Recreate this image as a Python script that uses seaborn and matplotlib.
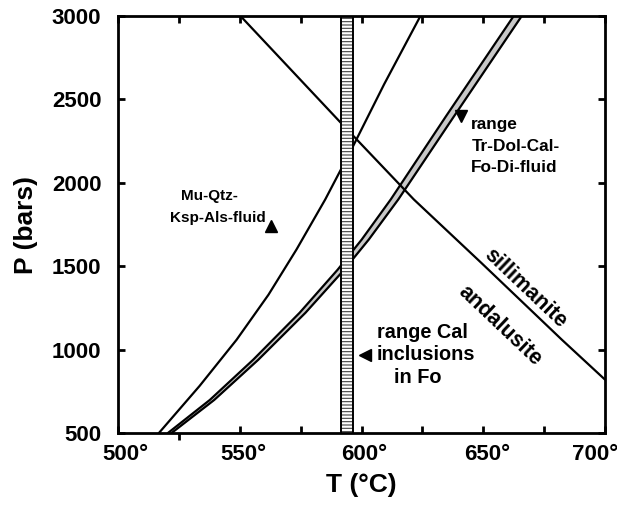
import numpy as np
import pandas as pd
import matplotlib
matplotlib.use("Agg")
import matplotlib.pyplot as plt
import matplotlib.lines as mlines
import matplotlib.transforms as mtransforms
import seaborn as sns

# ---- data ----
# Muscovite + Quartz = K-feldspar + Al-silicate + fluid
mu_T = [516.8, 533.5, 548.7, 561.8, 573.3, 585.1, 595.9, 609.3, 624.2]
mu_P = [500, 782, 1059, 1329, 1600, 1900, 2201, 2591, 3000]

# Tr-Dol-Cal-Fo-Di-fluid band (two bounding curves)
tr_P = [500, 698, 939, 1221, 1479, 1660, 1900, 2399, 3000]
tr_T_low = [520.5, 537.7, 555.5, 574.6, 590.2, 600.1, 612.0, 634.7, 662.5]
tr_T_high = [522.0, 539.5, 557.6, 577.0, 592.9, 603.0, 615.1, 638.0, 665.8]

# andalusite = sillimanite
as_T = [550.3, 591.3, 621.5, 649.2, 682.3, 700.0]
as_P = [3000, 2363, 1900, 1520, 1059, 820]

# range of Cal inclusions in Fo (temperature band)
cal_T = [591.5, 596.5]

x_ticks = [500, 550, 600, 650, 700]
x_tick_labels = ["500°", "550°", "600°", "650°", "700°"]
x_minor = [525, 575, 625, 675]
y_ticks = [500, 1000, 1500, 2000, 2500, 3000]
y_tick_labels = ["500", "1000", "1500", "2000", "2500", "3000"]

# ---- style ----
sns.set_theme(style="ticks")
plt.rcParams["font.family"] = ["Liberation Sans", "DejaVu Sans"]
plt.rcParams["font.weight"] = "bold"
for k in ("text.color", "axes.labelcolor", "xtick.color", "ytick.color",
          "axes.edgecolor"):
    plt.rcParams[k] = "black"
plt.rcParams["hatch.linewidth"] = 0.8
plt.rcParams["hatch.color"] = "#333333"

fig = plt.figure(figsize=(6.17, 5.11), dpi=100)
ax = fig.add_axes([118 / 617, 1 - 433 / 511, 487 / 617, 417 / 511])

LW = 1.6

mu_df = pd.DataFrame({"T": mu_T, "P": mu_P})
as_df = pd.DataFrame({"T": as_T, "P": as_P})
trl_df = pd.DataFrame({"T": tr_T_low, "P": tr_P})
trh_df = pd.DataFrame({"T": tr_T_high, "P": tr_P})

# stippled band
ax.fill_betweenx(tr_P, tr_T_low, tr_T_high, color="#c8c8c8", lw=0, zorder=2)
for df in (trl_df, trh_df):
    sns.lineplot(data=df, x="T", y="P", sort=False, estimator=None,
                 color="black", lw=LW, ax=ax, zorder=3)

sns.lineplot(data=mu_df, x="T", y="P", sort=False, estimator=None,
             color="black", lw=LW, ax=ax, zorder=3)
sns.lineplot(data=as_df, x="T", y="P", sort=False, estimator=None,
             color="black", lw=LW, ax=ax, zorder=3)

# hatched vertical band (drawn over curves)
ax.axvspan(cal_T[0], cal_T[1], facecolor="white", edgecolor="#444444",
           hatch="-----", lw=0, zorder=4)
for t in cal_T:
    ax.axvline(t, color="black", lw=1.4, zorder=5)

ax.set_xlim(500, 700)
ax.set_ylim(500, 3000)

ax.set_xticks(x_ticks)
ax.set_xticklabels(x_tick_labels)
ax.set_xticks(x_minor, minor=True)
ax.set_yticks(y_ticks)
ax.set_yticklabels(y_tick_labels)

ax.tick_params(axis="both", which="both", direction="in", length=5, width=2,
               top=True, right=True, color="black")
ax.tick_params(axis="y", which="major", labelsize=16, pad=12)
ax.tick_params(axis="x", which="major", labelsize=16, pad=8)
for lbl in ax.get_xticklabels() + ax.get_yticklabels():
    lbl.set_fontweight("bold")
    lbl.set_color("black")

# center the numbers (not the degree sign) under the ticks; keep 700° inside
shifts = [7, 4, 3, 3.5, -10]
for lbl, dx in zip(ax.get_xticklabels(), shifts):
    lbl.set_transform(lbl.get_transform() +
                      mtransforms.ScaledTranslation(dx / 100, 0, fig.dpi_scale_trans))

# the 525 tick on the bottom points outward in the reference
ax.xaxis.get_minor_ticks()[0].tick1line.set_marker(mlines.TICKDOWN)

for s in ax.spines.values():
    s.set_linewidth(2.0)
    s.set_color("black")
    s.set_zorder(10)

ax.set_xlabel("T (°C)", fontsize=19, fontweight="bold", labelpad=6)
ax.set_ylabel("P (bars)", fontsize=19, fontweight="bold", labelpad=10)

# ---- annotations ----
def txt(x, y, s, size, **kw):
    ax.text(x, y, s, fontsize=size, fontweight="bold", color="black",
            zorder=6, **kw)

txt(537.5, 1918, "Mu-Qtz-", 11, ha="center", va="center")
txt(541.2, 1786, "Ksp-Als-fluid", 11, ha="center", va="center")
ax.plot([562.7], [1744], marker="^", color="black", ms=8, zorder=6)

txt(645.1, 2351, "range", 12.4, ha="left", va="center")
txt(645.1, 2219, "Tr-Dol-Cal-", 12.4, ha="left", va="center")
txt(645.1, 2092, "Fo-Di-fluid", 12.4, ha="left", va="center")
ax.plot([640.9], [2399], marker="v", color="black", ms=8, zorder=6)

txt(625.2, 1101, "range Cal", 14.3, ha="center", va="center")
txt(626.4, 969, "inclusions", 14.3, ha="center", va="center")
txt(623.1, 830, "in Fo", 14.3, ha="center", va="center")
ax.plot([601.6], [969], marker="<", color="black", ms=8, zorder=6)

txt(667.3, 1368, "sillimanite", 15.5, ha="center", va="center",
    rotation=-43.5, rotation_mode="anchor")
txt(656.8, 1143, "andalusite", 15.5, ha="center", va="center",
    rotation=-43.5, rotation_mode="anchor")

fig.savefig("out.png", dpi=100)
